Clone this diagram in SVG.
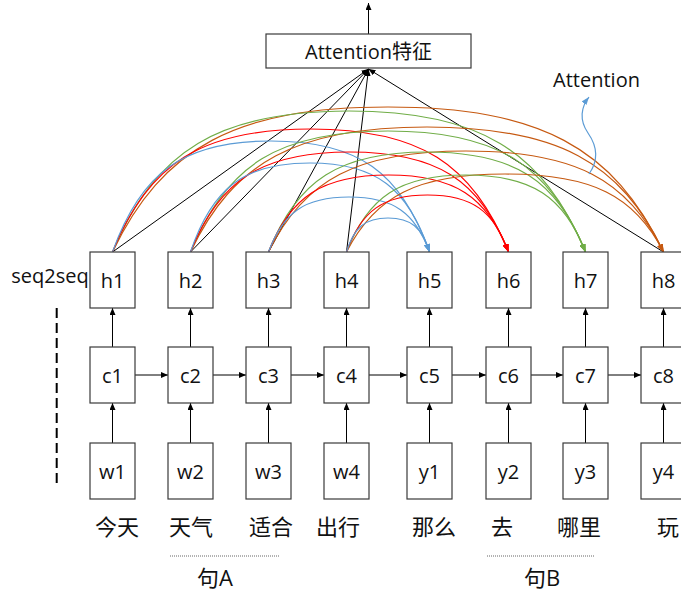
<svg xmlns="http://www.w3.org/2000/svg" width="681" height="593" viewBox="0 0 681 593">
<style>
.box{fill:#fff;stroke:#3a3a3a;stroke-width:1.2}
.lbl{font-family:"Open Sans","Noto Sans CJK SC",sans-serif;font-size:20px;fill:#111;text-anchor:middle}
.cjk{font-family:"Open Sans","Noto Sans CJK SC",sans-serif;font-size:22px;fill:#111}
.ln{fill:none;stroke:#000;stroke-width:1}
.cv{fill:none;stroke-width:1.2}
.b{stroke:#5B9BD5}.r{stroke:#FF0000}.g{stroke:#70AD47}.o{stroke:#C65911}
</style>
<defs>
<marker id="ak" markerUnits="userSpaceOnUse" markerWidth="7" markerHeight="6" refX="7" refY="3" orient="auto"><path d="M0,0 L7,3 L0,6 z" fill="#000"/></marker>
<marker id="ab" markerUnits="userSpaceOnUse" markerWidth="8" markerHeight="6" refX="8" refY="3" orient="auto"><path d="M0,0 L8,3 L0,6 z" fill="#5B9BD5"/></marker>
<marker id="ar" markerUnits="userSpaceOnUse" markerWidth="8" markerHeight="6" refX="8" refY="3" orient="auto"><path d="M0,0 L8,3 L0,6 z" fill="#FF0000"/></marker>
<marker id="ag" markerUnits="userSpaceOnUse" markerWidth="8" markerHeight="6" refX="8" refY="3" orient="auto"><path d="M0,0 L8,3 L0,6 z" fill="#70AD47"/></marker>
<marker id="ao" markerUnits="userSpaceOnUse" markerWidth="8" markerHeight="6" refX="8" refY="3" orient="auto"><path d="M0,0 L8,3 L0,6 z" fill="#C65911"/></marker>
</defs>

<g id="connectors">
<g class="ln" marker-end="url(#ak)">
<path d="M112.5,443V403"/><path d="M190.5,443V403"/><path d="M268.5,443V403"/><path d="M346.5,443V403"/>
<path d="M429.5,443V403"/><path d="M508.5,443V403"/><path d="M585.5,443V403"/><path d="M663.5,443V403"/>
<path d="M112.5,347V308"/><path d="M190.5,347V308"/><path d="M268.5,347V308"/><path d="M346.5,347V308"/>
<path d="M429.5,347V308"/><path d="M508.5,347V308"/><path d="M585.5,347V308"/><path d="M663.5,347V308"/>
<path d="M135,375H168"/><path d="M213,375H246"/><path d="M291,375H324"/><path d="M369,375H407"/>
<path d="M452,375H486"/><path d="M531,375H563"/><path d="M608,375H641"/>
<path d="M368.5,34V3"/>
<path d="M112.5,252L368.5,69"/><path d="M190.5,252L368.5,69"/><path d="M268.5,252L368.5,69"/><path d="M346.5,252L368.5,69"/><path d="M663.5,252L368.5,69"/>
</g>
<path class="cv o" marker-end="url(#ao)" d="M112.5,252 C162.1,147.6 236.5,107 388,107 S613.9,147.6 663.5,252"/>
<path class="cv g" marker-end="url(#ag)" d="M112.5,252 C155.1,150.5 218.9,111 349,111 S542.9,150.5 585.5,252"/>
<path class="cv r" marker-end="url(#ar)" d="M112.5,252 C148.1,163.4 201.6,129 310.5,129 S472.9,163.4 508.5,252"/>
<path class="cv b" marker-end="url(#ab)" d="M112.5,252 C141,172.1 183.8,141 271,141 S401,172.1 429.5,252"/>

<path class="cv o" marker-end="url(#ao)" d="M190.5,252 C233.1,162 296.9,127 427,127 S620.9,162 663.5,252"/>
<path class="cv g" marker-end="url(#ag)" d="M190.5,252 C226.1,164.9 279.4,131 388,131 S549.9,164.9 585.5,252"/>
<path class="cv r" marker-end="url(#ar)" d="M190.5,252 C219.1,180 262,152 349.5,152 S479.9,180 508.5,252"/>
<path class="cv b" marker-end="url(#ab)" d="M190.5,252 C212,187.9 244.3,163 310,163 S408,187.9 429.5,252"/>

<path class="cv o" marker-end="url(#ao)" d="M268.5,252 C304.1,179.3 357.4,151 466,151 S627.9,179.3 663.5,252"/>
<path class="cv g" marker-end="url(#ag)" d="M268.5,252 C297,180 339.8,152 427,152 S557,180 585.5,252"/>
<path class="cv r" marker-end="url(#ar)" d="M268.5,252 C290.1,196.6 322.5,175 388.5,175 S486.9,196.6 508.5,252"/>
<path class="cv b" marker-end="url(#ab)" d="M268.5,252 C283,212.4 304.7,197 349,197 S415,212.4 429.5,252"/>

<path class="cv o" marker-end="url(#ao)" d="M346.5,252 C375,195.8 417.8,174 505,174 S635,195.8 663.5,252"/>
<path class="cv g" marker-end="url(#ag)" d="M346.5,252 C368,196.6 400.3,175 466,175 S564,196.6 585.5,252"/>
<path class="cv r" marker-end="url(#ar)" d="M346.5,252 C361.1,211 382.9,195 427.5,195 S493.9,211 508.5,252"/>
<path class="cv b" marker-end="url(#ab)" d="M346.5,252 C354,227.5 365.2,218 388,218 S422,227.5 429.5,252"/>

<path class="cv b" marker-end="url(#ab)" d="M589,174 C599,160 597,146 588,133 C579,120 581,107 589,97"/>
</g>

<g id="attention-feature"><rect class="box" x="266" y="34" width="205" height="34"/><text class="lbl" x="368.5" y="59">Attention特征</text></g>
<g id="attention-label"><text class="lbl" x="596.5" y="86.5">Attention</text></g>
<g id="seq2seq-label"><text class="lbl" x="50" y="283">seq2seq</text>
<line x1="56.7" y1="308" x2="56.7" y2="488" stroke="#000" stroke-width="2" stroke-dasharray="10 5"/></g>

<g id="h1"><rect class="box" x="90" y="252" width="45" height="56"/><text class="lbl" x="112.5" y="288">h1</text></g>
<g id="h2"><rect class="box" x="168" y="252" width="45" height="56"/><text class="lbl" x="190.5" y="288">h2</text></g>
<g id="h3"><rect class="box" x="246" y="252" width="45" height="56"/><text class="lbl" x="268.5" y="288">h3</text></g>
<g id="h4"><rect class="box" x="324" y="252" width="45" height="56"/><text class="lbl" x="346.5" y="288">h4</text></g>
<g id="h5"><rect class="box" x="407" y="252" width="45" height="56"/><text class="lbl" x="429.5" y="288">h5</text></g>
<g id="h6"><rect class="box" x="486" y="252" width="45" height="56"/><text class="lbl" x="508.5" y="288">h6</text></g>
<g id="h7"><rect class="box" x="563" y="252" width="45" height="56"/><text class="lbl" x="585.5" y="288">h7</text></g>
<g id="h8"><rect class="box" x="641" y="252" width="45" height="56"/><text class="lbl" x="663.5" y="288">h8</text></g>

<g id="c1"><rect class="box" x="90" y="347" width="45" height="56"/><text class="lbl" x="112.5" y="383">c1</text></g>
<g id="c2"><rect class="box" x="168" y="347" width="45" height="56"/><text class="lbl" x="190.5" y="383">c2</text></g>
<g id="c3"><rect class="box" x="246" y="347" width="45" height="56"/><text class="lbl" x="268.5" y="383">c3</text></g>
<g id="c4"><rect class="box" x="324" y="347" width="45" height="56"/><text class="lbl" x="346.5" y="383">c4</text></g>
<g id="c5"><rect class="box" x="407" y="347" width="45" height="56"/><text class="lbl" x="429.5" y="383">c5</text></g>
<g id="c6"><rect class="box" x="486" y="347" width="45" height="56"/><text class="lbl" x="508.5" y="383">c6</text></g>
<g id="c7"><rect class="box" x="563" y="347" width="45" height="56"/><text class="lbl" x="585.5" y="383">c7</text></g>
<g id="c8"><rect class="box" x="641" y="347" width="45" height="56"/><text class="lbl" x="663.5" y="383">c8</text></g>

<g id="w1"><rect class="box" x="90" y="443" width="45" height="56"/><text class="lbl" x="112.5" y="479">w1</text></g>
<g id="w2"><rect class="box" x="168" y="443" width="45" height="56"/><text class="lbl" x="190.5" y="479">w2</text></g>
<g id="w3"><rect class="box" x="246" y="443" width="45" height="56"/><text class="lbl" x="268.5" y="479">w3</text></g>
<g id="w4"><rect class="box" x="324" y="443" width="45" height="56"/><text class="lbl" x="346.5" y="479">w4</text></g>
<g id="y1"><rect class="box" x="407" y="443" width="45" height="56"/><text class="lbl" x="429.5" y="479">y1</text></g>
<g id="y2"><rect class="box" x="486" y="443" width="45" height="56"/><text class="lbl" x="508.5" y="479">y2</text></g>
<g id="y3"><rect class="box" x="563" y="443" width="45" height="56"/><text class="lbl" x="585.5" y="479">y3</text></g>
<g id="y4"><rect class="box" x="641" y="443" width="45" height="56"/><text class="lbl" x="663.5" y="479">y4</text></g>

<g id="words">
<text class="cjk" x="95" y="535">今天</text>
<text class="cjk" x="169" y="535">天气</text>
<text class="cjk" x="249" y="535">适合</text>
<text class="cjk" x="316" y="535">出行</text>
<text class="cjk" x="412" y="535">那么</text>
<text class="cjk" x="491" y="535">去</text>
<text class="cjk" x="557" y="535">哪里</text>
<text class="cjk" x="657" y="535">玩</text>
</g>
<g id="sentence-a"><line x1="170" y1="556" x2="279" y2="556" stroke="#666" stroke-width="1" stroke-dasharray="1 1"/><text class="cjk" x="197" y="586">句A</text></g>
<g id="sentence-b"><line x1="487" y1="556" x2="595" y2="556" stroke="#666" stroke-width="1" stroke-dasharray="1 1"/><text class="cjk" x="524" y="586">句B</text></g>
</svg>
